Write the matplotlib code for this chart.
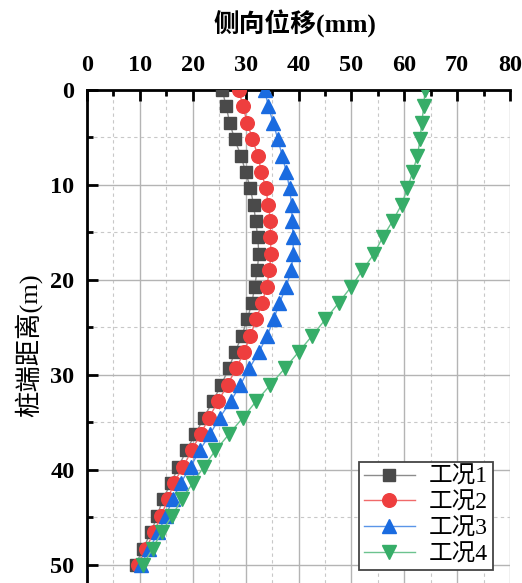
import matplotlib
matplotlib.use("Agg")
import matplotlib.pyplot as plt
from matplotlib.ticker import MultipleLocator

# Depth below pile top (m)
depth = [0.00, 1.72, 3.45, 5.17, 6.90, 8.62, 10.34, 12.07, 13.79, 15.52,
         17.24, 18.97, 20.69, 22.41, 24.14, 25.86, 27.59, 29.31, 31.03, 32.76,
         34.48, 36.21, 37.93, 39.66, 41.38, 43.10, 44.83, 46.55, 48.28, 50.00]

# Lateral displacement (mm) for each load case
case1 = [25.6, 26.3, 27.0, 27.9, 29.1, 30.0, 30.9, 31.5, 31.9, 32.3,
         32.5, 32.2, 31.7, 31.2, 30.3, 29.3, 28.0, 26.8, 25.4, 23.8,
         22.1, 20.5, 18.8, 17.3, 15.9, 14.3, 13.3, 12.1, 10.6, 9.2]
case2 = [28.7, 29.5, 30.3, 31.3, 32.3, 33.0, 33.8, 34.3, 34.7, 34.7,
         34.8, 34.5, 34.0, 33.1, 32.0, 30.9, 29.7, 28.2, 26.6, 24.8,
         23.1, 21.5, 19.8, 18.2, 16.4, 15.3, 14.0, 12.7, 11.1, 9.7]
case3 = [33.6, 34.3, 35.2, 36.1, 36.9, 37.7, 38.3, 38.7, 38.8, 39.0,
         39.0, 38.6, 37.7, 36.4, 35.3, 34.1, 32.5, 30.7, 29.0, 27.2,
         25.1, 23.3, 21.3, 19.6, 17.7, 16.2, 14.9, 13.5, 11.8, 10.2]
case4 = [63.9, 63.7, 63.3, 63.0, 62.5, 61.6, 60.6, 59.5, 57.8, 55.9,
         54.3, 52.1, 50.0, 47.6, 45.1, 42.6, 40.0, 37.4, 34.7, 32.0,
         29.5, 26.9, 24.3, 22.1, 20.0, 17.9, 16.1, 14.1, 12.4, 10.6]

labels = ["工况1", "工况2", "工况3", "工况4"]
x_ticks = [0, 10, 20, 30, 40, 50, 60, 70, 80]
y_ticks = [0, 10, 20, 30, 40, 50]

FONT = ["Liberation Serif", "Noto Sans CJK SC"]
plt.rcParams["font.family"] = FONT

fig = plt.figure(figsize=(5.22, 5.83), dpi=100)
ax = fig.add_axes([87 / 522, 0.0, (510 - 87) / 522, 1 - 90 / 583])

styles = [
    dict(marker="s", color="#8c8c8c", mfc="#4a4a4a", mec="#4a4a4a", ms=8.8),
    dict(marker="o", color="#f06a6a", mfc="#ee3e3e", mec="#ee3e3e", ms=9.8),
    dict(marker="^", color="#5a95e8", mfc="#1a6be0", mec="#1a6be0", ms=10.5),
    dict(marker="v", color="#6cc38f", mfc="#36ad68", mec="#36ad68", ms=10.5),
]
for series, lab, st in zip([case1, case2, case3, case4], labels, styles):
    ax.plot(series, depth, lw=1.0, label=lab, zorder=3, **st)

ax.set_xlim(0, 80)
ax.set_ylim(51.9, 0)
ax.xaxis.set_minor_locator(MultipleLocator(5))
ax.yaxis.set_minor_locator(MultipleLocator(5))
ax.set_xticks(x_ticks)
ax.set_yticks(y_ticks)

ax.xaxis.tick_top()
ax.xaxis.set_label_position("top")
ax.tick_params(which="both", direction="in", width=2, colors="black",
               top=True, bottom=False, left=True, right=False)
ax.tick_params(which="major", length=8)
ax.tick_params(which="minor", length=4.5)
ax.tick_params(axis="x", which="major", pad=10)
ax.tick_params(axis="y", which="major", pad=9)
for lbl in ax.get_xticklabels() + ax.get_yticklabels():
    lbl.set_fontsize(17.5)
    lbl.set_fontweight("bold")
    lbl.set_family(FONT)

ax.grid(which="major", color="#b4b4b4", lw=1.0, ls="-", zorder=0)
ax.grid(which="minor", color="#c8c8c8", lw=0.8, ls=(0, (3, 3)), zorder=0)
ax.set_axisbelow(True)

for side in ("right", "bottom"):
    ax.spines[side].set_visible(False)
for side in ("top", "left"):
    ax.spines[side].set_linewidth(2)

fig.text(295 / 522, 1 - 24 / 583, "侧向位移(mm)", ha="center", va="center",
         fontsize=18.5, fontweight="bold", family=FONT)
fig.text(28 / 522, 1 - 345 / 583, "桩端距离(m)", ha="center", va="center",
         rotation=90, fontsize=19, family=FONT)

leg = ax.legend(loc="lower right", bbox_to_anchor=(493 / 522, 13 / 583),
                bbox_transform=fig.transFigure, frameon=True, fancybox=False,
                edgecolor="#444444", framealpha=1, borderpad=0.2,
                labelspacing=0.18, handlelength=2.16, handletextpad=0.6,
                borderaxespad=0, prop=dict(family=FONT, size=17))
leg.get_frame().set_linewidth(1.3)

fig.savefig("out.png", dpi=100)
